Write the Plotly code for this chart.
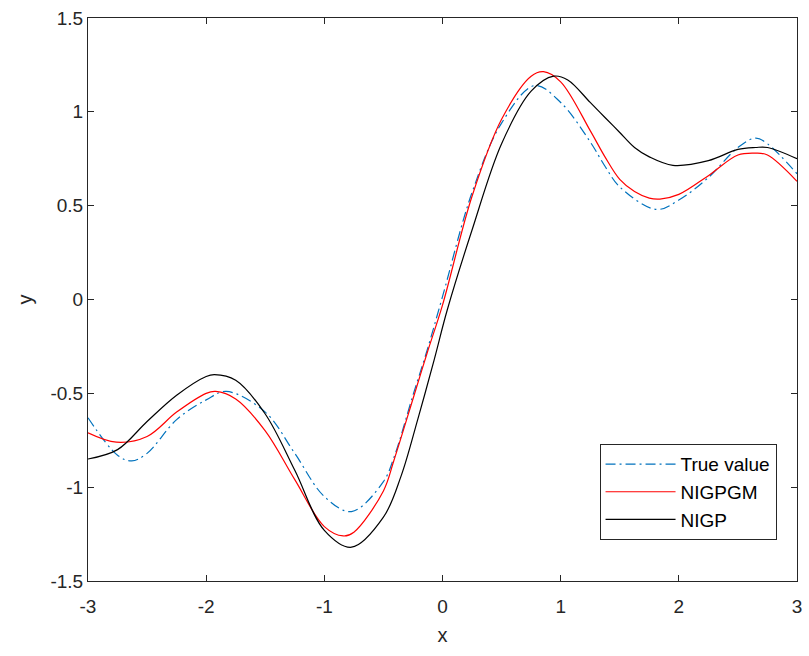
import plotly.graph_objects as go

# ---- data ----
true_x = [-3, -2.75, -2.63, -2.5, -2.25, -2, -1.83, -1.5, -1.25, -1, -0.77, -0.5, -0.41, -0.25, -0.13, 0,
          0.25, 0.5, 0.78, 1, 1.25, 1.375, 1.5, 1.81, 2, 2.25, 2.5, 2.65, 2.75, 3]
true_y = [-0.63, -0.83, -0.86, -0.82, -0.64, -0.535, -0.49, -0.60, -0.82, -1.05, -1.13, -0.97, -0.84, -0.51, -0.27, 0.015,
          0.57, 0.94, 1.14, 1.05, 0.84, 0.71, 0.60, 0.48, 0.53, 0.65, 0.81, 0.86, 0.83, 0.67]

nigpgm_x = [-3, -2.76, -2.5, -2.25, -2, -1.92, -1.75, -1.5, -1.25, -1, -0.84, -0.75, -0.5, -0.41, -0.25, -0.13, 0,
            0.25, 0.5, 0.75, 0.855, 1, 1.25, 1.375, 1.5, 1.625, 1.75, 1.84, 2, 2.25, 2.5, 2.65, 2.75, 3]
nigpgm_y = [-0.71, -0.76, -0.73, -0.60, -0.50, -0.49, -0.53, -0.70, -0.96, -1.21, -1.26, -1.24, -1.02, -0.855, -0.53, -0.285, -0.03,
            0.55, 0.96, 1.19, 1.214, 1.16, 0.90, 0.76, 0.64, 0.575, 0.54, 0.535, 0.56, 0.66, 0.77, 0.78, 0.77, 0.63]

nigp_x = [-3, -2.75, -2.5, -2.25, -2, -1.93, -1.75, -1.5, -1.25, -1, -0.77, -0.5, -0.35, -0.21, -0.07, 0.04,
          0.25, 0.5, 0.75, 0.94, 1.06, 1.25, 1.375, 1.5, 1.625, 1.75, 1.95, 2.25, 2.5, 2.65, 2.75, 3]
nigp_y = [-0.85, -0.80, -0.65, -0.51, -0.41, -0.40, -0.43, -0.61, -0.91, -1.23, -1.32, -1.16, -0.94, -0.64, -0.32, -0.056,
          0.37, 0.83, 1.11, 1.19, 1.17, 1.05, 0.97, 0.89, 0.81, 0.76, 0.715, 0.74, 0.80, 0.81, 0.81, 0.75]

x_ticks = [-3, -2, -1, 0, 1, 2, 3]
x_ticktext = ["-3", "-2", "-1", "0", "1", "2", "3"]
y_ticks = [-1.5, -1, -0.5, 0, 0.5, 1, 1.5]
y_ticktext = ["-1.5", "-1", "-0.5", "0", "0.5", "1", "1.5"]

FONT = "Liberation Sans, Arial, sans-serif"
AX = "#262626"

fig = go.Figure()
fig.add_trace(go.Scatter(x=true_x, y=true_y, mode="lines", name="True value",
                         line=dict(color="#0072BD", width=1.2, dash="10px,4px,2px,4px", shape="spline")))
fig.add_trace(go.Scatter(x=nigpgm_x, y=nigpgm_y, mode="lines", name="NIGPGM",
                         line=dict(color="#FF0000", width=1.2, shape="spline")))
fig.add_trace(go.Scatter(x=nigp_x, y=nigp_y, mode="lines", name="NIGP",
                         line=dict(color="#000000", width=1.2, shape="spline")))

axis_common = dict(showgrid=False, zeroline=False, showline=True, linecolor=AX, linewidth=1,
                   mirror="allticks", ticks="inside", ticklen=6, tickcolor=AX, tickwidth=1,
                   tickfont=dict(family=FONT, size=19, color=AX))

fig.update_xaxes(range=[-3, 3], tickvals=x_ticks, ticktext=x_ticktext, ticklabelstandoff=8,
                 title=dict(text="x", font=dict(family=FONT, size=20, color=AX), standoff=12),
                 **axis_common)
fig.update_yaxes(range=[-1.5, 1.5], tickvals=y_ticks, ticktext=y_ticktext,
                 title=dict(text="y", font=dict(family=FONT, size=20, color=AX), standoff=12),
                 **axis_common)

fig.update_layout(
    width=809, height=656,
    margin=dict(l=88, r=7, t=18, b=75),
    paper_bgcolor="white", plot_bgcolor="white",
    showlegend=True,
    legend=dict(x=0.7215, y=0.243, xanchor="left", yanchor="top",
                bgcolor="white", bordercolor="#262626", borderwidth=1,
                font=dict(family=FONT, size=19, color="#000000"),
                itemwidth=70, tracegroupgap=0),
)

fig.write_html("out.html")
